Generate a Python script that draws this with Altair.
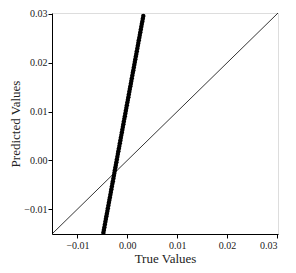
import altair as alt
import pandas as pd

true_vals = [-0.0048, -0.0047, -0.0046, -0.0045, -0.0044, -0.0043, -0.0042, -0.0041, -0.0040,
             -0.0039, -0.0038, -0.0037, -0.0036, -0.0035, -0.0034, -0.0033, -0.0032, -0.0031,
             -0.0030, -0.0029, -0.0028, -0.0027, -0.0026, -0.0025, -0.0024, -0.0023, -0.0022,
             -0.0021, -0.0020, -0.0019, -0.0018, -0.0017, -0.0016, -0.0015, -0.0014, -0.0013,
             -0.0012, -0.0011, -0.0010, -0.0009, -0.0008, -0.0007, -0.0006, -0.0005, -0.0004,
             -0.0003, -0.0002, -0.0001, 0.0000, 0.0001, 0.0002, 0.0003, 0.0004, 0.0005, 0.0006,
             0.0007, 0.0008, 0.0009, 0.0010, 0.0011, 0.0012, 0.0013, 0.0014, 0.0015, 0.0016,
             0.0017, 0.0018, 0.0019, 0.0020, 0.0021, 0.0022, 0.0023, 0.0024, 0.0025, 0.0026,
             0.0027, 0.0028, 0.0029, 0.0030, 0.0031, 0.0032]
pred_vals = [-0.01481, -0.01426, -0.01370, -0.01315, -0.01259, -0.01204, -0.01148, -0.01093, -0.01037,
             -0.00982, -0.00926, -0.00871, -0.00815, -0.00760, -0.00704, -0.00649, -0.00593, -0.00538,
             -0.00482, -0.00427, -0.00371, -0.00316, -0.00260, -0.00205, -0.00149, -0.00094, -0.00038,
             0.00018, 0.00073, 0.00129, 0.00184, 0.00240, 0.00295, 0.00351, 0.00406, 0.00462,
             0.00517, 0.00573, 0.00628, 0.00684, 0.00739, 0.00795, 0.00850, 0.00906, 0.00961,
             0.01017, 0.01072, 0.01128, 0.01183, 0.01239, 0.01294, 0.01350, 0.01405, 0.01461, 0.01516,
             0.01572, 0.01627, 0.01683, 0.01738, 0.01794, 0.01849, 0.01905, 0.01960, 0.02016, 0.02071,
             0.02127, 0.02182, 0.02238, 0.02293, 0.02349, 0.02404, 0.02460, 0.02515, 0.02571, 0.02626,
             0.02682, 0.02737, 0.02793, 0.02848, 0.02904, 0.02959]

diag_x = [-0.0151, 0.0302]
diag_y = [-0.0151, 0.0302]
ticks = [-0.01, 0.0, 0.01, 0.02, 0.03]

FONT = "Liberation Serif"
dom = [-0.0151, 0.0302]

df = pd.DataFrame({"t": true_vals, "p": pred_vals})
dd = pd.DataFrame({"t": diag_x, "p": diag_y})

xs = alt.Scale(domain=dom, nice=False, zero=False)
ys = alt.Scale(domain=dom, nice=False, zero=False)
xax = alt.Axis(values=ticks, format=".2f", title="True Values", grid=False,
               domainColor="black", tickColor="black", tickSize=4, labelFontSize=10,
               labelColor="#222", titleFontSize=13, titleFontWeight="normal",
               titleColor="#222", labelPadding=2, titlePadding=2, labelFont=FONT, titleFont=FONT)
yax = alt.Axis(values=ticks, format=".2f", title="Predicted Values", grid=False,
               domainColor="black", tickColor="black", tickSize=4, labelFontSize=10,
               labelColor="#222", titleFontSize=13, titleFontWeight="normal",
               titleColor="#222", labelPadding=1, titlePadding=1, labelFont=FONT, titleFont=FONT)

line = alt.Chart(dd).mark_line(color="black", strokeWidth=0.8, clip=True).encode(
    x=alt.X("t:Q", scale=xs, axis=xax), y=alt.Y("p:Q", scale=ys, axis=yax))
pts = alt.Chart(df).mark_circle(color="black", size=20, opacity=1, clip=True).encode(
    x=alt.X("t:Q", scale=xs, axis=xax), y=alt.Y("p:Q", scale=ys, axis=yax))

chart = (line + pts).properties(
    width=226, height=221,
    autosize=alt.AutoSizeParams(type="none"),
    padding={"left": 44, "top": 5, "right": 10, "bottom": 31},
).configure_view(stroke="black", strokeWidth=0.8).configure(font=FONT)

chart.save("out.html", embed_options={"renderer": "svg", "actions": False})
